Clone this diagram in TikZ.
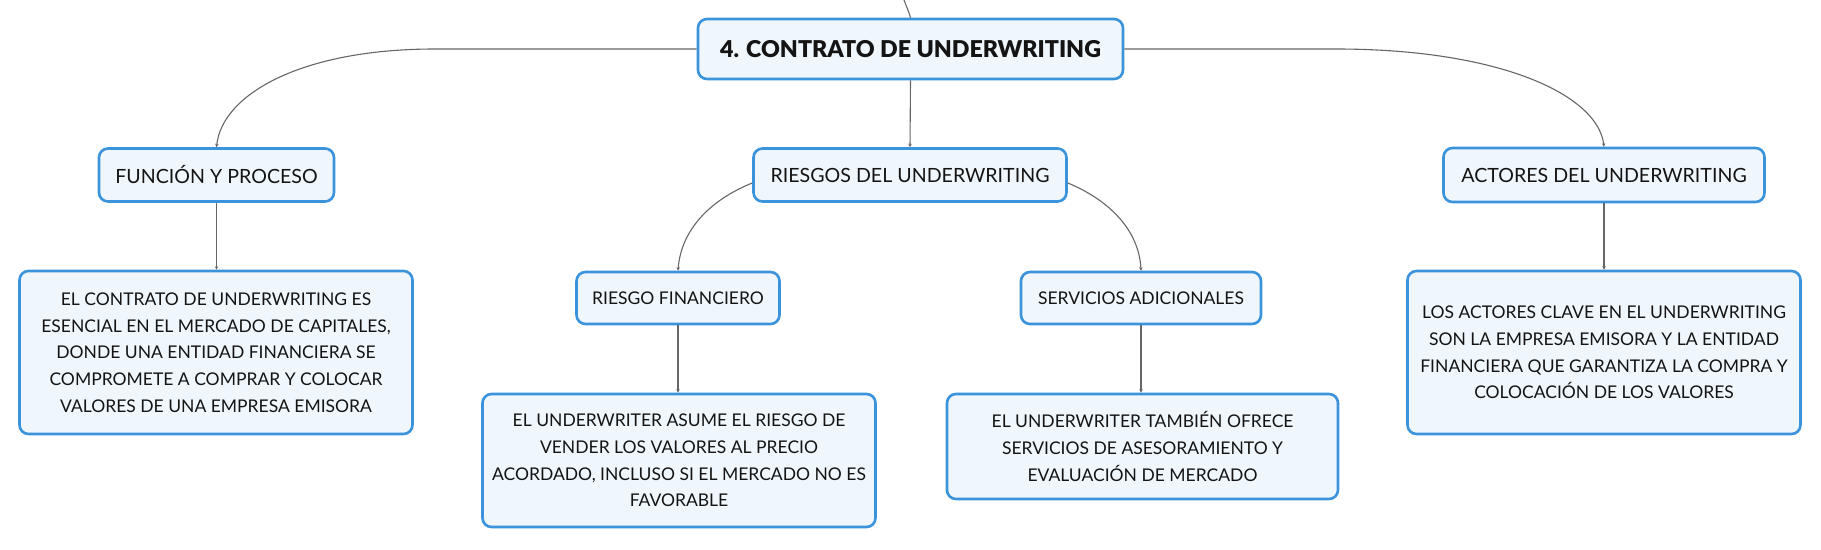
\documentclass[tikz,border=0pt]{standalone}
\usepackage{fontspec}
\setmainfont{Lato}
\newfontfamily\titlefont{Lato Black}
\usetikzlibrary{arrows.meta,calc}
\definecolor{boxblue}{HTML}{3A93DB}
\definecolor{boxfill}{HTML}{EFF7FD}
\definecolor{linegray}{HTML}{666666}
\begin{document}
\begin{tikzpicture}[x=1pt,y=-1pt,
  mbox/.style={draw=boxblue, line width=2.6pt, fill=boxfill, rounded corners=9pt,
    align=center, inner sep=0pt, text=black!92,
    font=\fontsize{17.5}{26.7}\selectfont},
  lbox/.style={mbox, font=\fontsize{19.6}{24}\selectfont},
  titlebox/.style={mbox, font=\fontsize{23.2}{28}\titlefont},
  conn/.style={draw=linegray, line width=1.1pt, -{Stealth[length=3.5pt,width=3.5pt]}},
  plain/.style={draw=linegray, line width=1.1pt}
]
\useasboundingbox (0,0) rectangle (1821,549);

% main nodes
\node[titlebox, minimum width=425pt, minimum height=60pt] (root) at (910.5,49) {4. CONTRATO DE UNDERWRITING};

\node[lbox, minimum width=235pt, minimum height=53pt] (func) at (216.5,175) {FUNCIÓN Y PROCESO};
\node[lbox, minimum width=313pt, minimum height=53pt] (ries) at (910,175) {RIESGOS DEL UNDERWRITING};
\node[lbox, minimum width=321pt, minimum height=54pt] (act) at (1604,175) {ACTORES DEL UNDERWRITING};

\node[mbox, minimum width=393pt, minimum height=163pt] (funcT) at (216,352.5)
  {EL CONTRATO DE UNDERWRITING ES\\ESENCIAL EN EL MERCADO DE CAPITALES,\\DONDE UNA ENTIDAD FINANCIERA SE\\COMPROMETE A COMPRAR Y COLOCAR\\VALORES DE UNA EMPRESA EMISORA};

\node[mbox, minimum width=203pt, minimum height=52pt] (rf) at (678,298) {RIESGO FINANCIERO};
\node[mbox, minimum width=240pt, minimum height=52pt] (sa) at (1141,298) {SERVICIOS ADICIONALES};

\node[mbox, minimum width=393pt, minimum height=133pt] (rfT) at (679,460.5)
  {EL UNDERWRITER ASUME EL RIESGO DE\\VENDER LOS VALORES AL PRECIO\\ACORDADO, INCLUSO SI EL MERCADO NO ES\\FAVORABLE};
\node[mbox, minimum width=391pt, minimum height=105pt] (saT) at (1142.5,446.5)
  {EL UNDERWRITER TAMBIÉN OFRECE\\SERVICIOS DE ASESORAMIENTO Y\\EVALUACIÓN DE MERCADO};
\node[mbox, minimum width=393pt, minimum height=163pt] (actT) at (1604,352.5)
  {LOS ACTORES CLAVE EN EL UNDERWRITING\\SON LA EMPRESA EMISORA Y LA ENTIDAD\\FINANCIERA QUE GARANTIZA LA COMPRA Y\\COLOCACIÓN DE LOS VALORES};

% helper coordinates
\coordinate (topc) at (904,0);
\coordinate (lc) at (435,49);
\coordinate (rc) at (1336,49);

% connectors
\draw[plain] (topc) .. controls (907,8) and (909,12) .. (root.north);
\draw[conn] (root.west) -- (lc) .. controls (300,49) and (222,95) .. (func.north);
\draw[conn] (root.east) -- (rc) .. controls (1500,49) and (1598,95) .. (act.north);
\draw[conn] (root.south) -- (ries.north);

\draw[conn] (ries.west |- 0,183) .. controls (710,200) and (681,230) .. (rf.north);
\draw[conn] (ries.east |- 0,183) .. controls (1109,200) and (1139,230) .. (sa.north);

\draw[conn] (func.south) -- (func.south |- funcT.north);
\draw[conn] (rf.south) -- (rf.south |- rfT.north);
\draw[conn] (sa.south) -- (sa.south |- saT.north);
\draw[conn] (act.south) -- (act.south |- actT.north);
\end{tikzpicture}
\end{document}
